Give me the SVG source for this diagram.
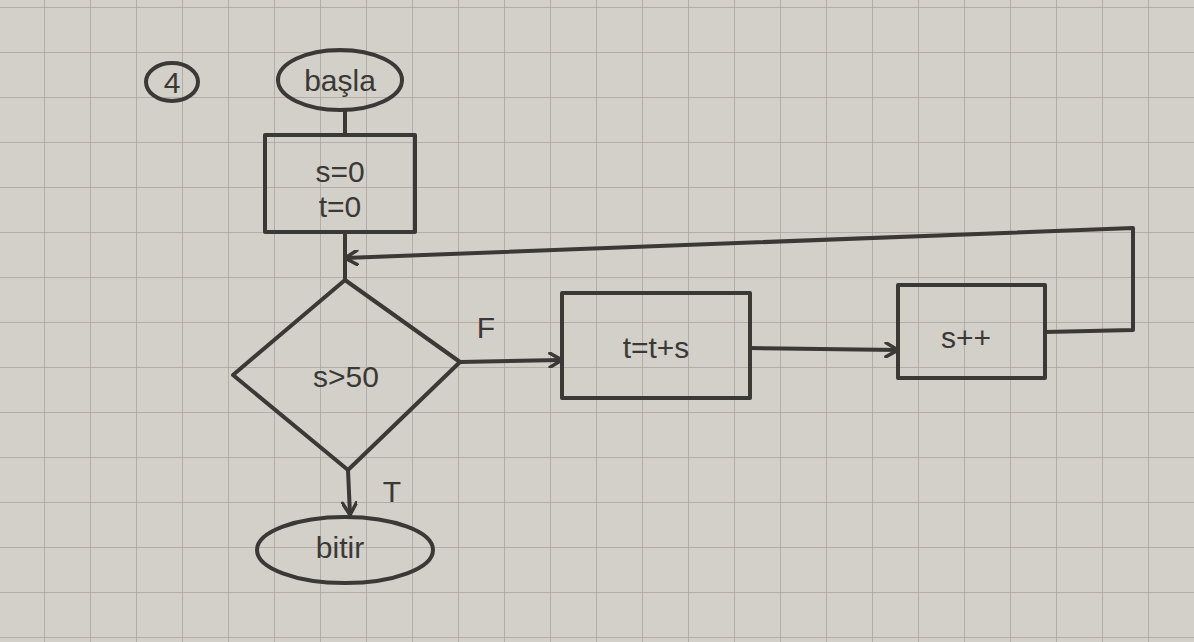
<svg xmlns="http://www.w3.org/2000/svg" width="1194" height="642" viewBox="0 0 1194 642">
<style>
.s{fill:none;stroke:#3b3936;stroke-width:4;stroke-linecap:round;stroke-linejoin:round}
.t{font-family:"Liberation Sans",Arial,sans-serif;fill:#3b3936;text-anchor:middle;font-size:30px}
.g{stroke:#a9a49e;stroke-width:1.5}
</style>
<defs>
<pattern id="grid" width="46" height="45" patternUnits="userSpaceOnUse" x="-2" y="7">
<path d="M0 0H46M0 0V45" class="g" fill="none"/>
</pattern>
<marker id="ah" markerWidth="16" markerHeight="16" refX="14" refY="8" orient="auto" markerUnits="userSpaceOnUse">
<path d="M2 1 L14 8 L2 15" fill="none" stroke="#3b3936" stroke-width="3.5" stroke-linecap="round"/>
</marker>
</defs>
<rect width="1194" height="642" fill="#d3cfc9"/>
<rect width="1194" height="642" fill="url(#grid)"/>
<g id="label4"><ellipse cx="172" cy="82" rx="26" ry="19" class="s"/><text x="172" y="93" class="t" font-size="28">4</text></g>
<g id="basla"><ellipse cx="340" cy="80" rx="62" ry="30" class="s"/><text x="340" y="91" class="t">başla</text></g>
<g id="init"><rect x="265" y="135" width="150" height="97" class="s"/><text x="340" y="182" class="t">s=0</text><text x="340" y="217" class="t">t=0</text></g>
<g id="cond"><path d="M345 280 L460 362 L348 470 L233 375 Z" class="s"/><text x="346" y="387" class="t">s&gt;50</text></g>
<g id="sum"><rect x="562" y="293" width="188" height="105" class="s"/><text x="656" y="358" class="t">t=t+s</text></g>
<g id="inc"><rect x="898" y="285" width="147" height="93" class="s"/><text x="966" y="348" class="t">s++</text></g>
<g id="bitir"><ellipse cx="345" cy="550" rx="88" ry="33" class="s"/><text x="340" y="558" class="t">bitir</text></g>
<g id="connectors">
<path d="M345 110 V135" class="s"/>
<path d="M345 232 V280" class="s"/>
<path d="M460 362 L562 360" class="s" marker-end="url(#ah)"/>
<path d="M750 348 L898 350" class="s" marker-end="url(#ah)"/>
<path d="M1045 332 L1133 330 L1133 228 L345 258" class="s" marker-end="url(#ah)"/>
<path d="M348 470 L350 515" class="s" marker-end="url(#ah)"/>
<text x="486" y="338" class="t">F</text>
<text x="392" y="502" class="t">T</text>
</g>
</svg>
